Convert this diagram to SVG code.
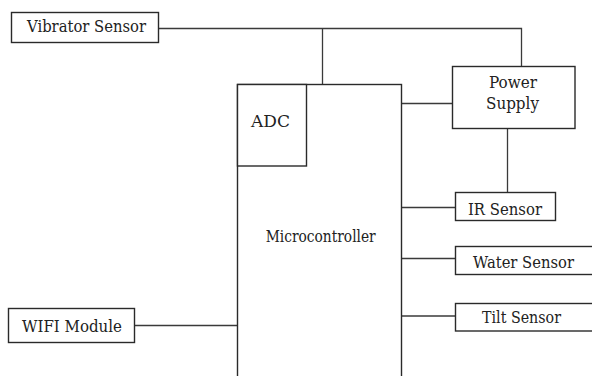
<svg xmlns="http://www.w3.org/2000/svg" width="592" height="376" viewBox="0 0 592 376">
<style>
.box{fill:#fff;stroke:#2a2a2a;stroke-width:1.4}
.wire{fill:none;stroke:#3a3a3a;stroke-width:1.3}
.t{font-family:'DejaVu Serif','Liberation Serif',serif;font-size:16px;fill:#222;text-anchor:middle}
</style>
<rect width="592" height="376" fill="#fff"/>
<g id="connectors">
<path class="wire" d="M159 28.5 H521.5 V66.5"/>
<path class="wire" d="M322.5 28.5 V84.5"/>
<path class="wire" d="M401.5 103.5 H452.5"/>
<path class="wire" d="M507.5 128.5 V192.5"/>
<path class="wire" d="M401.5 207.5 H455.5"/>
<path class="wire" d="M401.5 258.5 H455.5"/>
<path class="wire" d="M401.5 316 H455.5"/>
<path class="wire" d="M134.5 325.5 H237.5"/>
</g>
<g id="vibrator-sensor">
<rect class="box" x="11.5" y="12.5" width="147" height="30"/>
<text class="t" x="86.5" y="32" textLength="119" lengthAdjust="spacingAndGlyphs">Vibrator Sensor</text>
</g>
<g id="microcontroller">
<rect class="box" x="237.5" y="84.5" width="164" height="300"/>
<text class="t" x="320.7" y="242" textLength="110" lengthAdjust="spacingAndGlyphs">Microcontroller</text>
</g>
<g id="adc">
<rect class="box" x="237.5" y="84.5" width="69" height="81.5"/>
<text class="t" x="270.5" y="127" textLength="39" lengthAdjust="spacingAndGlyphs">ADC</text>
</g>
<g id="power-supply">
<rect class="box" x="452.5" y="66.5" width="122.5" height="62"/>
<text class="t" x="513" y="88" textLength="48" lengthAdjust="spacingAndGlyphs">Power</text>
<text class="t" x="512.5" y="109" textLength="53" lengthAdjust="spacingAndGlyphs">Supply</text>
</g>
<g id="ir-sensor">
<rect class="box" x="455.5" y="192.5" width="100" height="28"/>
<text class="t" x="505" y="215" textLength="74" lengthAdjust="spacingAndGlyphs">IR Sensor</text>
</g>
<g id="water-sensor">
<rect class="box" x="455.5" y="246.5" width="150" height="28"/>
<text class="t" x="523.5" y="268" textLength="101" lengthAdjust="spacingAndGlyphs">Water Sensor</text>
</g>
<g id="tilt-sensor">
<rect class="box" x="455.5" y="303.5" width="150" height="27.5"/>
<text class="t" x="521.5" y="323" textLength="79" lengthAdjust="spacingAndGlyphs">Tilt Sensor</text>
</g>
<g id="wifi-module">
<rect class="box" x="8.5" y="308.5" width="126" height="34"/>
<text class="t" x="72" y="332" textLength="100" lengthAdjust="spacingAndGlyphs">WIFI Module</text>
</g>
</svg>
